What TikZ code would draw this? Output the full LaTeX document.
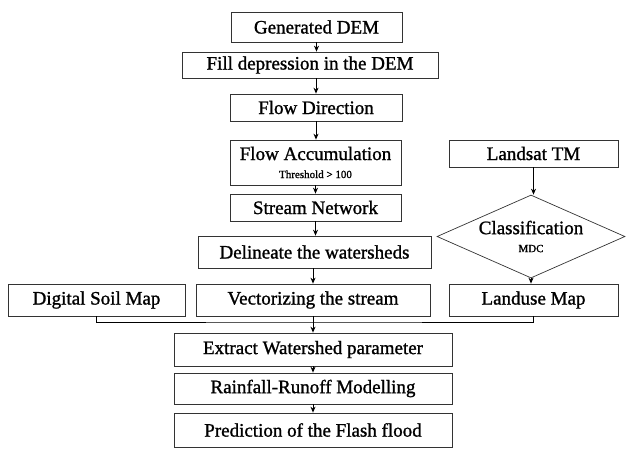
\documentclass[tikz,border=0pt]{standalone}
\usepackage{fontspec}
\setmainfont{Liberation Serif}[FakeBold=1.2]
\usetikzlibrary{shapes.geometric,arrows.meta}
\begin{document}
\begin{tikzpicture}[x=1pt,y=-1pt,
  box/.style={draw=black!80, line width=0.7pt, rectangle, inner sep=0pt, align=center,
    font=\fontsize{19}{21}\selectfont},
  dia/.style={draw=black!80, line width=0.7pt, diamond, aspect=2.27, inner sep=0pt, align=center,
    font=\fontsize{19}{21}\selectfont},
  arr/.style={-{Stealth[length=6pt,width=5pt]}, line width=1pt},
  ln/.style={line width=0.8pt}]
\useasboundingbox (0,0) rectangle (626,448);
\node[box, minimum width=171pt, minimum height=30pt] (gen) at (316.5,27) {Generated DEM};
\node[box, minimum width=256pt, minimum height=26pt] (fill) at (310,65) {Fill depression in the DEM};
\node[box, minimum width=172pt, minimum height=27pt] (fdir) at (316,107.5) {Flow Direction};
\node[box, minimum width=171pt, minimum height=45pt] (facc) at (315.5,162.5) {Flow Accumulation\\[-3pt]{\fontsize{11}{12}\selectfont Threshold > 100}};
\node[box, minimum width=171pt, minimum height=27pt] (strm) at (315.5,207.5) {Stream Network};
\node[box, minimum width=233pt, minimum height=32pt] (delin) at (314.5,252) {Delineate the watersheds};
\node[box, minimum width=234pt, minimum height=32pt] (vect) at (313,300) {Vectorizing the stream};
\node[box, minimum width=177pt, minimum height=32pt] (dsm) at (96.5,300) {Digital Soil Map};
\node[box, minimum width=169pt, minimum height=27pt] (lsat) at (533.5,153.5) {Landsat TM};
\node[dia, minimum width=188pt, minimum height=83pt] (cls) at (531,236.5) {Classification\\[-3pt]{\fontsize{11}{12}\selectfont MDC}};
\node[box, minimum width=169pt, minimum height=32pt] (luse) at (533.5,300) {Landuse Map};
\node[box, minimum width=278pt, minimum height=33pt] (extr) at (313,349.5) {Extract Watershed parameter};
\node[box, minimum width=278pt, minimum height=31pt] (rain) at (313,388.5) {Rainfall-Runoff Modelling};
\node[box, minimum width=278pt, minimum height=34pt] (pred) at (313,430) {Prediction of the Flash flood};
\coordinate (mrg) at (313,322);
\draw[arr] (gen.south) -- (gen.south |- fill.north);
\draw[arr] (fdir.north |- fill.south) -- (fdir.north);
\draw[arr] (fdir.south) -- (fdir.south |- facc.north);
\draw[arr] (facc.south) -- (facc.south |- strm.north);
\draw[arr] (strm.south) -- (strm.south |- delin.north);
\draw[arr] (vect.north |- delin.south) -- (vect.north);
\draw[arr] (lsat.south) -- (lsat.south |- cls.north);
\draw[arr] (cls.south) -- (cls.south |- luse.north);
\draw[ln] (dsm.south) |- (mrg) -| (luse.south);
\draw[arr] (vect.south) -- (vect.south |- extr.north);
\draw[arr] (extr.south) -- (extr.south |- rain.north);
\draw[arr] (rain.south) -- (rain.south |- pred.north);
\end{tikzpicture}
\end{document}
